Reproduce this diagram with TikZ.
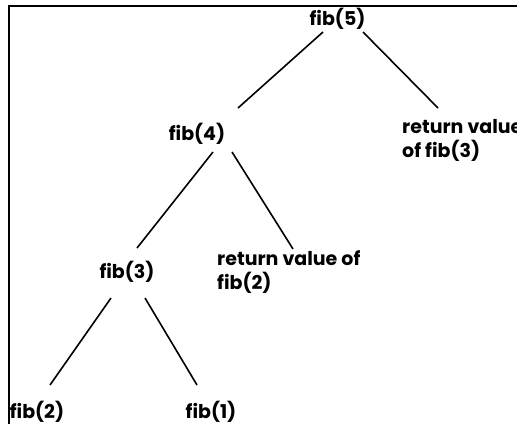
\documentclass[tikz,border=0pt]{standalone}
\usepackage{fontspec}
\setmainfont{Poppins}
\tikzset{
    call/.style={inner sep=0pt, font=\fontsize{19}{24}\selectfont\bfseries},
    ret/.style={call, align=left, anchor=west},
    edge/.style={line width=1.6pt}
}
\begin{document}
\begin{tikzpicture}[x=1pt, y=-1pt]
    \useasboundingbox (0,0) rectangle (517,424);
    \draw[line width=2.6pt] (9,424) -- (9,6) -- (517,6);
    % calls
    \node[call] (fibfive) at (337.5,19) {fib(5)};
    \node[call] (fibfour) at (197,134) {fib(4)};
    \node[ret] (retthree) at (402,140) {return value\\of fib(3)};
    \node[call] (fibthree) at (127,272) {fib(3)};
    \node[ret] (rettwo) at (217,272) {return value of\\fib(2)};
    \node[call] (fibtwo) at (37,412) {fib(2)};
    \node[call] (fibone) at (211,412) {fib(1)};
    % edges
    \draw[edge] ([shift={(-14.5,13)}]fibfive.center) -- ([shift={(41,-26)}]fibfour.center);
    \draw[edge] ([shift={(25.5,13)}]fibfive.center) -- ([shift={(36,-32)}]retthree.west);
    \draw[edge] ([shift={(16,18)}]fibfour.center) -- ([shift={(10,-24)}]fibthree.center);
    \draw[edge] ([shift={(35,18)}]fibfour.center) -- ([shift={(76,-23)}]rettwo.west);
    \draw[edge] ([shift={(-16,26)}]fibthree.center) -- ([shift={(13,-27)}]fibtwo.center);
    \draw[edge] ([shift={(18,26)}]fibthree.center) -- ([shift={(-14,-27)}]fibone.center);
\end{tikzpicture}
\end{document}
